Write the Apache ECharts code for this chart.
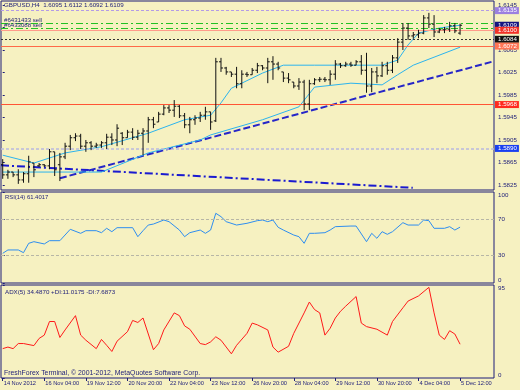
<!DOCTYPE html>
<html><head><meta charset="utf-8">
<script src="https://cdn.jsdelivr.net/npm/echarts@6/dist/echarts.min.js"></script>
<style>html,body{margin:0;padding:0;background:#f6f1c1}#c{width:520px;height:390px}</style>
</head><body><div id="c"></div>
<script>
// ---------- DATA ----------
const xLabels = ['14 Nov 2012','16 Nov 04:00','19 Nov 12:00','20 Nov 20:00','22 Nov 04:00','23 Nov 12:00','26 Nov 20:00','28 Nov 04:00','29 Nov 12:00','30 Nov 20:00','4 Dec 04:00','5 Dec 12:00'];
const xLabelBars = [0,8,16,24,32,40,48,56,64,72,80,88];

const opens = [1.5861,1.5843,1.5848,1.5843,1.5834,1.5845,1.5864,1.5859,1.5861,1.5859,
1.5884,1.5861,1.5875,1.5894,1.5909,1.5912,1.5894,1.5900,1.5894,1.5896,
1.5900,1.5910,1.5905,1.5917,1.5909,1.5919,1.5910,1.5917,1.5921,1.5941,
1.5937,1.5951,1.5962,1.5958,1.5965,1.5948,1.5932,1.5941,1.5944,1.5949,
1.5955,1.5939,1.6044,1.6033,1.6026,1.6022,1.6005,1.6022,1.6021,1.6029,
1.6037,1.6033,1.6044,1.6040,1.6026,1.6015,1.6008,1.6001,1.6008,1.5969,
1.6005,1.6012,1.6013,1.6012,1.6022,1.6040,1.6037,1.6040,1.6038,1.6044,
1.6029,1.6001,1.6026,1.6019,1.6037,1.6029,1.6051,1.6079,1.6104,1.6090,
1.6092,1.6095,1.6122,1.6111,1.6097,1.6101,1.6102,1.6108,1.6095];
const highs = [1.5871,1.5852,1.5848,1.5853,1.5848,1.5877,1.5864,1.5864,1.5862,1.5889,
1.5884,1.5882,1.5900,1.5914,1.5917,1.5916,1.5905,1.5903,1.5900,1.5903,
1.5916,1.5917,1.5933,1.5919,1.5923,1.5926,1.5923,1.5926,1.5946,1.5946,
1.5955,1.5967,1.5967,1.5976,1.5967,1.5953,1.5946,1.5949,1.5955,1.5964,
1.5955,1.6051,1.6051,1.6035,1.6026,1.6035,1.6029,1.6026,1.6033,1.6042,
1.6038,1.6051,1.6054,1.6044,1.6026,1.6024,1.6008,1.6015,1.6012,1.6012,
1.6015,1.6017,1.6017,1.6029,1.6047,1.6042,1.6044,1.6044,1.6047,1.6056,
1.6060,1.6033,1.6035,1.6044,1.6044,1.6056,1.6086,1.6113,1.6113,1.6097,
1.6101,1.6127,1.6131,1.6127,1.6104,1.6106,1.6115,1.6113,1.6112];
const lows = [1.5836,1.5836,1.5839,1.5827,1.5829,1.5829,1.5839,1.5857,1.5857,1.5853,
1.5841,1.5832,1.5871,1.5887,1.5903,1.5889,1.5884,1.5887,1.5891,1.5891,
1.5889,1.5896,1.5894,1.5896,1.5909,1.5905,1.5905,1.5878,1.5900,1.5926,
1.5937,1.5949,1.5953,1.5946,1.5944,1.5926,1.5917,1.5932,1.5937,1.5941,
1.5923,1.5937,1.6026,1.6021,1.6017,1.5997,1.5997,1.6017,1.6021,1.6024,
1.6029,1.6006,1.6012,1.6029,1.6008,1.6006,1.5997,1.5994,1.5958,1.5958,
1.6003,1.6008,1.6008,1.6003,1.6012,1.6033,1.6035,1.6035,1.6038,1.6021,
1.5989,1.5990,1.6006,1.6017,1.6021,1.6024,1.6042,1.6065,1.6083,1.6085,
1.6086,1.6093,1.6104,1.6088,1.6095,1.6095,1.6097,1.6095,1.6092];
const closes = [1.5843,1.5848,1.5843,1.5834,1.5845,1.5866,1.5852,1.5861,1.5859,1.5884,
1.5852,1.5875,1.5894,1.5909,1.5912,1.5894,1.5900,1.5894,1.5896,1.5900,
1.5910,1.5905,1.5926,1.5909,1.5919,1.5910,1.5917,1.5921,1.5941,1.5933,
1.5951,1.5962,1.5958,1.5965,1.5948,1.5932,1.5941,1.5944,1.5949,1.5955,
1.5937,1.6044,1.6033,1.6026,1.6022,1.6005,1.6022,1.6021,1.6029,1.6037,
1.6033,1.6044,1.6040,1.6033,1.6015,1.6012,1.6001,1.6008,1.5969,1.6005,
1.6012,1.6013,1.6012,1.6022,1.6040,1.6037,1.6040,1.6038,1.6044,1.6029,
1.6001,1.6026,1.6019,1.6037,1.6029,1.6051,1.6079,1.6104,1.6090,1.6092,
1.6095,1.6122,1.6111,1.6097,1.6101,1.6102,1.6108,1.6099,1.6109];

// indicator lines on the price panel: [bar index, price]
const cyanUpper = [[0,1.5878],[6,1.5864],[12,1.5882],[19,1.5893],[28,1.5917],[35,1.5941],[40,1.5949],[42,1.5971],[44,1.5997],[50,1.6024],[54,1.6038],[60,1.6038],[73,1.6038],[76,1.6047],[78,1.6074],[80,1.6095],[84,1.6104],[88,1.6109]];
const cyanLower = [[0,1.5848],[11,1.5848],[19,1.5848],[28,1.5882],[38,1.5905],[40,1.5914],[50,1.5941],[57,1.5964],[60,1.5999],[67,1.6006],[73,1.6003],[76,1.6021],[79,1.6038],[88,1.6070]];
const trendUp = [[11,1.5837],[94.1,1.6044]];
const trendDown = [[-0.33,1.5860],[78.9,1.5820]];

const priceTicks = [1.5825,1.5865,1.5905,1.5945,1.5985,1.6025,1.6065,1.6105,1.6145];

// RSI(14): [bar index, value]
const rsi = [[0,32.6],[1,36.3],[3,36.3],[4,33.3],[5,43.6],[6,45.4],[8,42.9],[9,46.5],[11,46.5],[13,59],[15,54.6],[16,57.5],[18,57.5],[19,55.3],[20,60.1],[21,56.4],[22,60.8],[25,60.8],[26,50.9],[27,57.5],[28,63.7],[29,64.8],[31,69.2],[32,67.4],[34,58.2],[35,50.9],[36,55.3],[38,58.2],[39,54.6],[40,58.2],[41,76.6],[42,72.9],[43,67.4],[45,63.7],[47,65.6],[49,68.5],[50,69.2],[51,67.4],[52,69.2],[53,61.2],[54,58.2],[56,52.7],[57,50.9],[58,43.6],[59,54.6],[60,54.6],[62,55.3],[63,58.2],[64,61.9],[67,62.6],[68,62.6],[70,45.4],[71,54.6],[72,49.1],[73,56.4],[74,53.5],[75,56.4],[77,66.3],[78,63.7],[80,63.7],[81,69.2],[82,68.5],[83,60.1],[85,60.1],[86,61.9],[87,58.2],[88,61.4]];
const rsiTicks = [0,30,70,100];

// ADX(5): [bar index, value]
const adx = [[0,30.0],[1,31.6],[2,30.0],[3,35.2],[4,35.2],[6,33.1],[7,40.4],[8,43.8],[9,57.7],[10,57.7],[11,41.4],[12,49.1],[14,63.7],[15,43.8],[16,38.6],[18,30.0],[19,39.4],[20,33.4],[21,27.1],[22,37.6],[24,47.3],[25,58.8],[26,56.7],[27,61.3],[29,28.9],[30,35.2],[31,49.1],[33,66.5],[34,63.7],[35,53.2],[36,49.8],[38,35.2],[39,34.1],[40,36.9],[41,42.1],[42,38.6],[44,24.7],[45,33.4],[47,45.6],[48,56.1],[49,54.3],[51,49.1],[52,31.6],[53,26.4],[55,32.4],[56,45.6],[58,66.5],[59,77.6],[60,69.9],[61,66.5],[62,43.8],[63,50.8],[64,61.3],[65,68.2],[66,73.4],[68,83.2],[69,56.1],[70,52.5],[72,49.8],[74,43.8],[75,57.7],[77,71.7],[78,78.6],[80,83.8],[82,92.6],[83,66.5],[84,43.8],[85,39.4],[86,48.3],[87,44.9],[88,34.5]];
const adxTicks = [0,95];

// ---------- CHART ----------
const NAVY = '#1c1c78';
const FONT = 'Liberation Sans';
const xMin = -0.33, xMax = 94.53;
const ohlc = opens.map((o, i) => [i, o, highs[i], lows[i], closes[i]]);

function levelLine(y, color, type, width, boxColor, boxText) {
  return {
    yAxis: y,
    lineStyle: {color: color, type: type, width: width},
    label: {show: true, position: 'end', formatter: boxText, backgroundColor: boxColor,
      color: '#ffffff', padding: [1, 2, 0, 3], fontSize: 6.2, fontFamily: FONT, distance: 1}
  };
}
function orderLine(y, text) {
  return {
    yAxis: y,
    lineStyle: {color: '#22c222', type: [7, 3, 2, 3], width: 1},
    label: {show: true, position: 'insideStartTop', formatter: text, color: NAVY,
      fontSize: 6.1, fontFamily: FONT, distance: [3, 0]}
  };
}

const gridBase = {left: 1, width: 493, show: true, borderColor: NAVY, borderWidth: 1,
  backgroundColor: 'transparent', containLabel: false, outerBoundsMode: 'none'};

const option = {
  animation: false,
  backgroundColor: '#f6f1c1',
  textStyle: {fontFamily: FONT},
  grid: [
    Object.assign({}, gridBase, {top: 1, height: 189}),
    Object.assign({}, gridBase, {top: 192, height: 91}),
    Object.assign({}, gridBase, {top: 285, height: 93})
  ],
  xAxis: [0, 1, 2].map(g => ({
    type: 'value', gridIndex: g, min: xMin, max: xMax,
    axisLine: {show: false}, splitLine: {show: false},
    axisTick: g === 2 ? {show: true, customValues: xLabelBars, length: 3, lineStyle: {color: NAVY}} : {show: false},
    axisLabel: g === 2 ? {show: true, customValues: xLabelBars, align: 'left', margin: 2, padding: [0, 0, 0, 1],
      color: NAVY, fontSize: 5.7, fontFamily: FONT,
      formatter: v => xLabels[xLabelBars.indexOf(Math.round(v))] || ''} : {show: false}
  })),
  yAxis: [
    {type: 'value', gridIndex: 0, position: 'right', min: 1.58161, max: 1.61521,
      axisLine: {show: false}, splitLine: {show: false},
      axisTick: {show: true, customValues: priceTicks, length: 2, lineStyle: {color: NAVY}},
      axisLabel: {customValues: priceTicks, margin: 4, color: NAVY, fontSize: 6.2, fontFamily: FONT,
        formatter: v => v.toFixed(4)}},
    {type: 'value', gridIndex: 1, position: 'right', min: 0, max: 100,
      axisLine: {show: false}, splitLine: {show: false},
      axisTick: {show: true, customValues: rsiTicks, length: 2, lineStyle: {color: NAVY}},
      axisLabel: {customValues: rsiTicks, margin: 4, color: NAVY, fontSize: 6.2, fontFamily: FONT,
        verticalAlignMinLabel: 'bottom', verticalAlignMaxLabel: 'top'}},
    {type: 'value', gridIndex: 2, position: 'right', min: 0, max: 95,
      axisLine: {show: false}, splitLine: {show: false},
      axisTick: {show: true, customValues: adxTicks, length: 2, lineStyle: {color: NAVY}},
      axisLabel: {customValues: adxTicks, margin: 4, color: NAVY, fontSize: 6.2, fontFamily: FONT,
        verticalAlignMinLabel: 'bottom', verticalAlignMaxLabel: 'top'}}
  ],
  graphic: [
    {type: 'text', left: 4, top: 2, style: {text: 'GBPUSD,H4  1.6095 1.6112 1.6092 1.6109', fill: NAVY, font: '6.2px "Liberation Sans"'}},
    {type: 'text', left: 5, top: 194, style: {text: 'RSI(14) 61.4017', fill: NAVY, font: '5.9px "Liberation Sans"'}},
    {type: 'text', left: 5, top: 289, style: {text: 'ADX(5) 34.4870 +DI:11.0175 -DI:7.6873', fill: NAVY, font: '6.2px "Liberation Sans"'}},
    {type: 'text', left: 4, top: 369.5, style: {text: 'FreshForex Terminal, \u00a9 2001-2012, MetaQuotes Software Corp.', fill: NAVY, font: '6.9px "Liberation Sans"'}}
  ],
  series: [
    {type: 'line', xAxisIndex: 0, yAxisIndex: 0, data: trendDown, showSymbol: false, silent: true, z: 2,
      lineStyle: {color: '#1a1ad0', width: 2, type: [8, 3, 2, 3]}},
    {type: 'line', xAxisIndex: 0, yAxisIndex: 0, data: trendUp, showSymbol: false, silent: true, z: 2,
      lineStyle: {color: '#2626c8', width: 2, type: [7, 3]}},
    {type: 'line', xAxisIndex: 0, yAxisIndex: 0, data: cyanUpper, showSymbol: false, silent: true, z: 3,
      lineStyle: {color: '#2cb4ee', width: 1}},
    {type: 'line', xAxisIndex: 0, yAxisIndex: 0, data: cyanLower, showSymbol: false, silent: true, z: 3,
      lineStyle: {color: '#2cb4ee', width: 1}},
    {type: 'line', xAxisIndex: 0, yAxisIndex: 0, data: [], silent: true, z: 1,
      markLine: {silent: true, symbol: ['none', 'none'], animation: false, precision: 4, data: [
        levelLine(1.6135, '#b39be6', [3, 2], 1, '#9b7fe0', '1.6135'),
        levelLine(1.6109, 'rgba(0,0,0,0)', 'solid', 1, '#141480', '1.6109'),
        levelLine(1.6100, '#ff9c8a', 'solid', 1, '#f23228', '1.6100'),
        levelLine(1.6084, '#333333', [2, 2], 1, '#111111', '1.6084'),
        levelLine(1.6072, '#ff6a48', 'solid', 1, '#ff7555', '1.6072'),
        levelLine(1.5968, '#ff5535', 'solid', 1, '#ff2a1e', '1.5968'),
        levelLine(1.5890, '#b9b9de', [3, 2], 1.6, '#1a40f0', '1.5890'),
        orderLine(1.6113, '#6431433 sell'),
        orderLine(1.6103, '#6433088 sell')
      ]}},
    {type: 'custom', xAxisIndex: 0, yAxisIndex: 0, data: ohlc, z: 5, clip: true,
      encode: {x: 0, y: [1, 2, 3, 4]},
      renderItem: function (params, api) {
        const i = api.value(0);
        const o = api.coord([i, api.value(1)]);
        const h = api.coord([i, api.value(2)]);
        const l = api.coord([i, api.value(3)]);
        const c = api.coord([i, api.value(4)]);
        const x = o[0];
        const st = {stroke: '#111111', lineWidth: 1};
        return {type: 'group', children: [
          {type: 'line', shape: {x1: x, y1: h[1], x2: x, y2: l[1]}, style: st},
          {type: 'line', shape: {x1: x - 2, y1: o[1], x2: x, y2: o[1]}, style: st},
          {type: 'line', shape: {x1: x, y1: c[1], x2: x + 2, y2: c[1]}, style: st}
        ]};
      }},
    {type: 'line', xAxisIndex: 1, yAxisIndex: 1, data: rsi, showSymbol: false, silent: true,
      lineStyle: {color: '#2e8ef0', width: 1},
      markLine: {silent: true, symbol: ['none', 'none'], label: {show: false},
        lineStyle: {color: '#b7b6a6', type: [3, 2], width: 1},
        data: [{yAxis: 70}, {yAxis: 30}]}},
    {type: 'line', xAxisIndex: 2, yAxisIndex: 2, data: adx, showSymbol: false, silent: true,
      lineStyle: {color: '#ff1a1a', width: 1}}
  ]
};
const chart = echarts.init(document.getElementById('c'), null, {renderer: 'canvas'});
chart.setOption(option);
</script></body></html>
